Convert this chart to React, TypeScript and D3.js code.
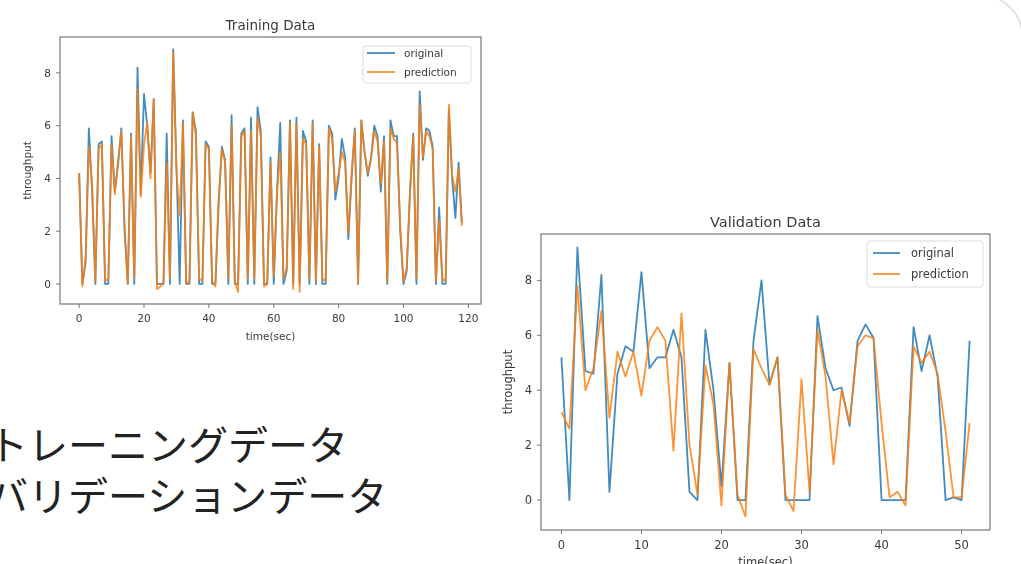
import React from "react";
import * as d3 from "d3";

// ---------- data ----------
const trainOriginal = [
  4.2, 0, 0.8, 5.9, 3.5, 0, 5.3, 5.4, 0, 0, 5.6, 3.5, 4.5, 5.9, 2.0, 0, 5.7, 0, 8.2, 3.4,
  7.2, 6.0, 4.2, 7.0, 0, 0, 0, 5.7, 0, 8.9, 4.5, 0, 6.2, 0, 0, 6.5, 5.8, 0, 0, 5.4,
  5.2, 0, 0, 3.0, 5.2, 4.7, 0, 6.4, 0, 0, 5.7, 5.9, 0, 6.3, 0, 6.7, 5.8, 0, 0, 4.8,
  0, 3.5, 6.1, 0, 0.5, 6.2, 0, 6.3, 0, 5.8, 5.4, 0, 6.2, 0, 5.3, 0, 0, 6.0, 5.7, 3.2,
  4.0, 5.5, 4.8, 1.7, 4.0, 5.9, 0, 6.2, 5.0, 4.1, 4.8, 6.0, 5.6, 3.5, 5.6, 0, 6.2, 5.6, 5.6, 2.0,
  0, 0.5, 3.5, 5.7, 0, 7.3, 4.7, 5.9, 5.8, 5.2, 0, 2.9, 0, 0, 6.6, 4.0, 2.5, 4.6, 2.3,
];
const trainPrediction = [
  4.2, -0.1, 1.0, 5.2, 3.8, 0.1, 5.1, 5.3, 0.1, 0.2, 5.3, 3.4, 4.7, 5.8, 2.3, 0, 5.6, 0.2, 7.4, 3.3,
  5.3, 6.1, 4.0, 7.0, -0.2, -0.1, 0, 4.6, 0.2, 8.8, 4.3, 2.6, 6.1, 0.1, 0, 6.5, 5.6, 0.2, 0.1, 5.3,
  5.1, 0.1, -0.1, 3.2, 5.1, 4.6, 0.2, 6.0, 0.1, -0.3, 5.6, 5.8, 0.2, 5.8, 0.2, 6.3, 5.6, -0.1, 0, 4.6,
  0.3, 3.4, 5.0, 0.2, 0.6, 6.1, -0.2, 6.1, -0.3, 5.5, 5.3, 0.2, 6.1, 0.1, 5.2, 0.2, 0.1, 5.9, 5.5, 3.5,
  4.2, 5.0, 4.6, 1.9, 4.2, 5.8, 0, 6.2, 5.0, 4.2, 4.7, 5.8, 5.4, 3.8, 5.4, 0.1, 5.9, 5.5, 5.3, 2.2,
  0.1, 0.6, 3.4, 5.6, 0.2, 6.8, 4.8, 5.8, 5.6, 5.1, 0.1, 2.4, 0.2, 0.1, 6.8, 4.1, 3.5, 4.4, 2.2,
];
const valOriginal = [
  5.2, 0, 9.2, 4.7, 4.6, 8.2, 0.3, 4.6, 5.6, 5.4, 8.3, 4.8, 5.2, 5.2, 6.2, 5.2, 0.3, 0, 6.2, 4.0,
  0.5, 5.0, 0, 0, 5.8, 8.0, 4.2, 5.2, 0, 0, 0, 0, 6.7, 4.8, 4.0, 4.1, 2.7, 5.8, 6.4, 5.9,
  0, 0, 0, 0, 6.3, 4.7, 6.0, 4.5, 0, 0.1, 0, 5.8,
];
const valPrediction = [
  3.2, 2.6, 7.8, 4.0, 4.8, 6.9, 3.0, 5.4, 4.5, 5.4, 3.8, 5.8, 6.3, 5.8, 1.8, 6.8, 2.0, 0.2, 4.9, 3.5,
  -0.2, 5.0, 0.2, -0.6, 5.5, 4.8, 4.2, 5.2, 0.2, -0.4, 4.4, 0.3, 6.2, 4.5, 1.3, 4.0, 2.8, 5.6, 6.0, 5.9,
  2.8, 0.1, 0.3, -0.2, 5.6, 5.0, 5.4, 4.6, 2.5, 0.1, 0.1, 2.8,
];
const trainXTicks = [0, 20, 40, 60, 80, 100, 120];
const valXTicks = [0, 10, 20, 30, 40, 50];
const yTicks = [0, 2, 4, 6, 8];
const seriesNames = ["original", "prediction"];
const seriesColors = ["#1f77b4", "#ff7f0e"];
const jpLines = ["トレーニングデータ", "バリデーションデータ"];
const xLabel = "time(sec)";
const yLabel = "throughput";

const FONT = "'DejaVu Sans', sans-serif";

type ChartProps = {
  title: string;
  original: number[];
  prediction: number[];
  xTicks: number[];
  box: { l: number; r: number; t: number; b: number };
  legend: { x: number; y: number; w: number; h: number; r1: number; r2: number; l0: number; l1: number; tx: number };
  fs: number;
  legendFs: number;
  titleFs: number;
};

function pad(ext: [number, number]): [number, number] {
  const r = ext[1] - ext[0];
  return [ext[0] - 0.05 * r, ext[1] + 0.05 * r];
}

function Chart({ title, original, prediction, xTicks, box, legend, fs, legendFs, titleFs }: ChartProps) {
  const n = original.length;
  const x = d3.scaleLinear().domain(pad([0, n - 1])).range([box.l, box.r]);
  const all = original.concat(prediction);
  const y = d3.scaleLinear().domain(pad(d3.extent(all) as [number, number])).range([box.b, box.t]);
  const line = d3
    .line<number>()
    .x((_, i) => x(i))
    .y((d) => y(d));
  const series = [original, prediction];
  const textColor = "#3a3a3a";
  const axisColor = "#777";
  return (
    <g fontFamily={FONT} filter="url(#soft)">
      <text x={(box.l + box.r) / 2} y={box.t - 7} textAnchor="middle" fontSize={titleFs} fill={textColor}>
        {title}
      </text>
      {series.map((s, k) => (
        <path key={k} d={line(s) || ""} fill="none" stroke={seriesColors[k]} strokeWidth={1.8} strokeOpacity={0.85} strokeLinejoin="round" />
      ))}
      <rect x={box.l} y={box.t} width={box.r - box.l} height={box.b - box.t} fill="none" stroke={axisColor} strokeWidth={1.2} />
      {xTicks.map((t) => (
        <g key={"x" + t}>
          <line x1={x(t)} x2={x(t)} y1={box.b} y2={box.b + 4} stroke={axisColor} />
          <text x={x(t)} y={box.b + 7 + fs} textAnchor="middle" fontSize={fs} fill={textColor}>
            {t}
          </text>
        </g>
      ))}
      {yTicks.map((t) => (
        <g key={"y" + t}>
          <line x1={box.l - 4} x2={box.l} y1={y(t)} y2={y(t)} stroke={axisColor} />
          <text x={box.l - 9} y={y(t)} dy="0.35em" textAnchor="end" fontSize={fs} fill={textColor}>
            {t}
          </text>
        </g>
      ))}
      <text x={(box.l + box.r) / 2} y={box.b + 36} textAnchor="middle" fontSize={fs} fill={textColor}>
        {xLabel}
      </text>
      <text
        transform={`translate(${box.l - 33},${(box.t + box.b) / 2}) rotate(-90)`}
        dy="0.35em"
        textAnchor="middle"
        fontSize={fs}
        fill={textColor}
      >
        {yLabel}
      </text>
      <rect x={legend.x} y={legend.y} width={legend.w} height={legend.h} rx={3} fill="white" fillOpacity={0.8} stroke="#ddd" />
      {seriesNames.map((name, k) => {
        const cy = legend.y + (k === 0 ? legend.r1 : legend.r2);
        return (
          <g key={name}>
            <line x1={legend.x + legend.l0} x2={legend.x + legend.l1} y1={cy} y2={cy} stroke={seriesColors[k]} strokeWidth={1.8} strokeOpacity={0.85} />
            <text x={legend.x + legend.tx} y={cy} dy="0.35em" fontSize={legendFs} fill={textColor}>
              {name}
            </text>
          </g>
        );
      })}
    </g>
  );
}

export default function App() {
  return (
    <svg width={1021} height={564} style={{ position: "absolute", left: 0, top: 0, background: "#fff" }}>
      <defs>
        <filter id="soft" x="-5%" y="-5%" width="110%" height="110%">
          <feGaussianBlur stdDeviation={0.45} />
        </filter>
      </defs>
      <rect x={0} y={0} width={1021} height={564} fill="#fff" />
      <rect x={-40} y={-4.3} width={1062} height={700} rx={40} fill="none" stroke="#dcdcdc" strokeWidth={1.5} />
      <Chart
        title="Training Data"
        original={trainOriginal}
        prediction={trainPrediction}
        xTicks={trainXTicks}
        box={{ l: 60, r: 481, t: 37, b: 304 }}
        legend={{ x: 363, y: 46, w: 108, h: 37, r1: 7, r2: 26, l0: 4, l1: 32, tx: 41 }}
        fs={10.5}
        legendFs={10.5}
        titleFs={13.5}
      />
      <Chart
        title="Validation Data"
        original={valOriginal}
        prediction={valPrediction}
        xTicks={valXTicks}
        box={{ l: 541, r: 990, t: 234, b: 530 }}
        legend={{ x: 867, y: 241, w: 116, h: 46, r1: 12, r2: 33, l0: 6, l1: 33, tx: 44 }}
        fs={11.5}
        legendFs={11.5}
        titleFs={14.5}
      />
      <g fontFamily="'Noto Sans CJK JP', sans-serif" fontSize={40} fill="#222">
        {jpLines.map((s, i) => (
          <text key={s} x={-12} y={446 + i * 51} dy="0.35em">
            {s}
          </text>
        ))}
      </g>
    </svg>
  );
}
